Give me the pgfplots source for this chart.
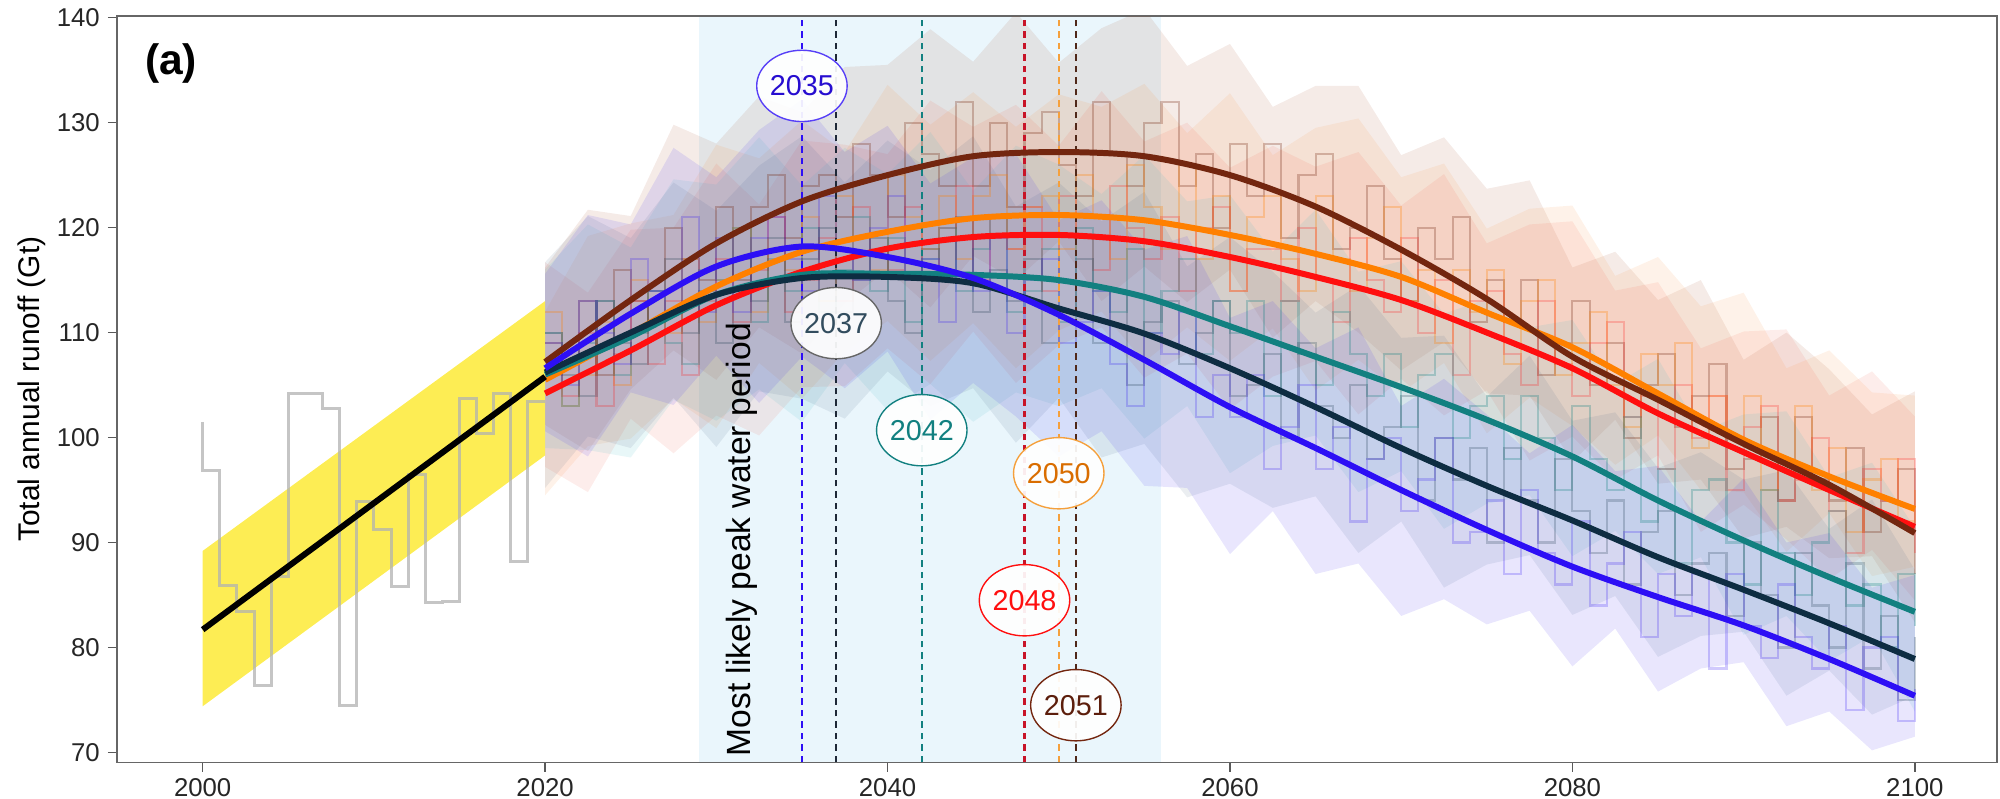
\documentclass[border=0pt]{standalone}
\usepackage{fontspec}
\setmainfont{Liberation Sans}
\usepackage{pgfplots}
\usepackage{pgfplotstable}
\pgfplotsset{compat=1.18}
\usepgfplotslibrary{fillbetween}
\usetikzlibrary{shapes.geometric}

\definecolor{cBl}{RGB}{45,15,245}
\definecolor{cNv}{RGB}{14,45,66}
\definecolor{cTe}{RGB}{18,128,128}
\definecolor{cRd}{RGB}{255,15,15}
\definecolor{cOr}{RGB}{255,128,0}
\definecolor{cBr}{RGB}{115,38,15}
\definecolor{cSpan}{RGB}{234,246,252}
\definecolor{cYel}{RGB}{253,235,65}
\definecolor{bBl}{RGB}{70,50,240}
\definecolor{bNv}{RGB}{70,100,130}
\definecolor{bTe}{RGB}{80,190,200}
\definecolor{bRd}{RGB}{240,80,60}
\definecolor{bOr}{RGB}{250,150,70}
\definecolor{bBr}{RGB}{170,90,60}
\definecolor{dNv}{RGB}{30,40,55}
\definecolor{dRd}{RGB}{200,20,40}
\definecolor{dOr}{RGB}{245,160,60}
\definecolor{dBr}{RGB}{80,40,25}

% smooth fitted curves
\pgfplotstableread{
yr bl nv te rd or br
2020 106.6 106.2 106.0 104.2 105.5 107.2
2025 111.8 110.0 109.6 108.3 109.9 113.1
2030 116.3 113.6 113.6 112.6 114.4 118.5
2035 118.2 115.2 115.5 115.8 117.7 122.5
2040 117.2 115.3 115.6 118.0 119.6 125.0
2045 115.2 114.7 115.5 119.1 120.9 126.8
2050 111.7 112.3 115.0 119.3 121.2 127.2
2055 107.4 109.9 113.4 118.7 120.7 126.8
2060 102.9 106.6 110.6 117.2 119.3 125.0
2065 99.0 102.9 107.7 115.3 117.5 122.0
2070 95.0 99.0 104.8 113.1 115.3 117.9
2075 91.2 95.4 101.7 110.0 111.9 113.2
2080 87.7 92.1 98.2 106.6 108.6 107.7
2085 84.8 88.6 94.0 102.3 104.2 103.6
2090 82.1 85.5 90.2 98.6 99.8 99.4
2095 78.9 82.3 86.7 95.0 96.3 95.5
2100 75.4 78.9 83.4 91.5 93.2 90.9
}\curves

% uncertainty bands
\pgfplotstableread{
yr blU blL nvU nvL teU teL rdU rdL orU orL brU brL
2020 115.6 100.6 116.7 95.2 116.0 99.0 116.7 97.2 112.0 94.5 116.2 101.2
2022.5 121.2 98.2 121.1 100.1 120.3 98.8 113.8 94.8 119.2 99.2 121.7 98.7
2025 120.3 104.3 119.0 99.0 118.1 98.1 119.8 101.8 120.4 99.9 121.1 104.6
2027.5 127.6 103.1 124.3 103.8 124.6 103.6 120.0 98.5 121.2 103.7 129.8 108.3
2030 124.8 107.8 121.6 99.1 124.1 101.6 126.1 102.1 127.9 100.9 128.0 105.5
2032.5 129.3 103.3 125.9 104.4 128.6 104.6 122.2 100.2 126.6 107.1 132.5 110.5
2035 132.2 107.7 128.7 103.7 124.0 101.5 128.3 104.8 130.2 103.7 131.0 108.0
2037.5 127.2 104.7 124.3 101.8 127.6 107.1 127.9 104.9 127.2 108.2 135.3 112.8
2040 129.7 108.2 128.3 106.3 125.1 102.6 127.0 108.5 133.6 111.1 135.5 116.0
2042.5 124.2 101.7 125.5 103.0 129.1 105.1 132.1 105.1 129.8 107.3 138.9 112.4
2045 126.7 105.2 128.7 104.7 123.5 101.5 129.6 110.1 132.9 110.9 135.8 117.3
2047.5 127.0 102.0 122.0 99.5 127.8 104.3 131.7 105.2 129.6 106.6 140.5 115.0
2050 120.7 98.2 124.3 103.8 126.0 103.0 127.8 108.8 132.7 110.2 135.7 118.7
2052.5 122.6 100.6 120.6 98.1 123.2 104.7 133.0 110.5 131.5 112.0 139.0 113.0
2055 117.9 95.4 123.4 99.4 126.9 99.9 128.2 105.7 133.7 107.2 140.8 116.3
2057.5 119.2 95.2 116.3 94.3 122.5 103.0 130.0 108.0 129.0 110.5 135.4 112.9
2060 111.4 88.9 119.1 95.6 123.1 96.6 125.7 102.7 132.8 107.3 137.5 116.0
2062.5 113.0 93.0 115.8 93.3 117.7 99.2 127.8 105.8 126.9 110.4 131.5 109.5
2065 108.5 87.0 111.9 94.4 121.7 100.2 125.8 107.3 129.5 104.5 133.5 113.0
2067.5 110.5 88.0 114.5 89.0 115.8 94.8 127.2 102.2 130.4 107.4 133.5 110.0
2070 103.0 83.0 109.5 92.0 116.8 96.8 122.1 105.6 124.8 104.3 126.9 106.4
2072.5 105.6 84.6 109.7 85.7 111.8 91.3 125.1 102.1 126.1 107.1 128.6 109.1
2075 102.2 82.2 103.9 87.9 113.2 93.7 118.5 104.5 119.9 100.4 123.7 104.2
2077.5 98.5 83.5 107.8 88.8 110.5 94.5 120.3 97.8 121.8 103.8 124.5 104.0
2080 101.2 78.2 101.6 83.1 111.2 88.7 120.6 100.1 122.1 101.1 116.2 97.7
2082.5 96.8 81.8 102.4 84.9 105.1 91.1 114.0 96.0 115.4 97.4 117.7 101.7
2085 97.3 75.8 97.1 79.1 107.5 87.0 114.8 98.3 117.2 100.2 113.1 95.6
2087.5 92.0 78.0 98.6 81.1 100.6 88.6 108.5 91.0 112.5 95.0 115.0 96.0
2090 96.1 78.6 96.0 81.5 102.2 81.2 110.1 93.6 113.8 94.8 107.4 90.4
2092.5 90.0 72.5 96.9 75.4 102.5 83.0 110.3 90.3 106.6 89.1 110.0 91.5
2095 90.9 73.9 91.3 77.8 96.2 78.7 104.0 86.5 108.3 92.8 106.5 88.5
2097.5 85.7 70.2 94.1 73.6 97.6 81.1 106.3 89.3 104.3 86.8 102.2 88.7
2100 86.9 71.5 87.4 75.4 91.4 73.9 102.0 84.5 104.0 87.7 104.4 82.4
}\bands

% annual values
\pgfplotstableread{
yr bl nv te rd or br
2020 109 110 110 106 112 109
2021 105 106 103 104 103 107
2022 113 104 109 110 106 113
2023 110 113 113 103 111 106
2024 107 109 106 108 105 116
2025 117 107 110 113 115 113
2026 114 114 114 107 111 111
2027 112 117 109 113 110 120
2028 121 110 107 106 117 117
2029 112 114 116 113 111 115
2030 119 109 115 117 115 122
2031 112 117 120 111 120 115
2032 119 113 111 116 112 122
2033 121 119 117 121 118 125
2034 117 111 114 112 116 119
2035 114 117 120 115 121 124
2036 123 120 112 119 113 125
2037 118 112 116 113 123 121
2038 115 115 121 122 119 128
2039 120 119 114 118 116 125
2040 123 113 119 116 125 121
2041 115 110 111 122 121 130
2042 117 118 117 115 118 127
2043 111 116 120 120 123 124
2044 119 121 114 124 117 132
2045 114 112 118 115 123 124
2046 119 116 121 121 125 130
2047 110 113 112 118 118 122
2048 115 117 114 122 122 129
2049 117 109 118 114 123 131
2050 109 112 111 123 118 126
2051 111 117 120 119 125 123
2052 114 109 114 116 121 132
2053 107 114 112 124 117 127
2054 103 105 118 120 126 124
2055 110 111 110 117 122 130
2056 108 113 114 121 118 132
2057 112 107 117 114 126 124
2058 102 110 108 120 117 127
2059 106 113 113 122 123 120
2060 102 104 110 114 114 128
2061 106 105 113 118 121 123
2062 97 108 104 118 123 128
2063 101 100 113 113 117 119
2064 105 109 108 120 114 125
2065 97 103 105 115 123 127
2066 101 100 112 111 117 118
2067 92 105 108 119 114 120
2068 98 98 104 115 119 124
2069 100 101 108 112 122 117
2070 93 104 101 119 113 113
2071 96 94 106 110 116 120
2072 100 100 108 115 109 117
2073 90 96 100 106 116 121
2074 91 99 103 113 112 111
2075 94 90 104 114 116 115
2076 87 99 98 108 107 111
2077 95 94 104 105 113 115
2078 89 90 100 113 115 106
2079 86 98 95 107 106 109
2080 92 93 103 104 109 113
2081 84 89 98 109 112 105
2082 88 94 95 111 105 109
2083 91 86 102 102 101 100
2084 81 91 92 104 108 105
2085 87 93 97 97 105 108
2086 83 85 88 105 109 101
2087 87 88 95 100 99 104
2088 78 89 96 104 104 107
2089 87 83 90 95 100 97
2090 82 90 86 101 104 98
2091 79 85 95 103 95 102
2092 86 80 89 94 98 94
2093 81 89 85 96 103 102
2094 78 84 90 100 95 96
2095 82 80 93 93 99 94
2096 74 88 84 89 91 99
2097 80 78 86 97 96 91
2098 81 83 80 94 98 94
2099 73 75 87 98 92 97
2100 76 81 82 89 95 87
}\steps

\tikzset{lab/.style={ellipse, fill=white, fill opacity=0.92, text opacity=1,
  minimum width=38pt, minimum height=31pt, inner sep=0pt, line width=0.6pt,
  font=\fontsize{12.5}{14}\selectfont}}

\begin{document}
\begin{tikzpicture}
\begin{axis}[
  set layers,
  scale only axis, width=817.4pt, height=324.5pt,
  xmin=1995, xmax=2104.8, ymin=69.05, ymax=140.15,
  xtick={2000,2020,2040,2060,2080,2100},
  ytick={70,80,90,100,110,120,130,140},
  tick pos=left, tick align=outside, major tick length=4pt,
  tick style={color=black!65, line width=0.6pt},
  axis line style={color=black!60, line width=0.7pt},
  ticklabel style={font=\fontsize{11.2}{13}\selectfont, text=black!85},
  /pgf/number format/assume math mode=true,
  /pgf/number format/1000 sep={},
  xticklabel style={yshift=0.5pt},
  yticklabel style={xshift=0pt},
  ylabel={Total annual runoff (Gt)},
  every axis y label/.style={at={(axis description cs:-0.0455,0.5)}, rotate=90, anchor=center, font=\fontsize{13}{15}\selectfont},
]
% peak-water period
\addplot[on layer=axis background, draw=none, fill=cSpan] coordinates {(2029,69.05) (2056,69.05) (2056,140.15) (2029,140.15)} -- cycle;

% bands
\addplot[draw=none, name path=brU] table[x=yr,y=brU]{\bands};
\addplot[draw=none, name path=brL] table[x=yr,y=brL]{\bands};
\addplot[fill=bBr, fill opacity=0.12, draw=none] fill between[of=brU and brL];
\addplot[draw=none, name path=orU] table[x=yr,y=orU]{\bands};
\addplot[draw=none, name path=orL] table[x=yr,y=orL]{\bands};
\addplot[fill=bOr, fill opacity=0.12, draw=none] fill between[of=orU and orL];
\addplot[draw=none, name path=rdU] table[x=yr,y=rdU]{\bands};
\addplot[draw=none, name path=rdL] table[x=yr,y=rdL]{\bands};
\addplot[fill=bRd, fill opacity=0.10, draw=none] fill between[of=rdU and rdL];
\addplot[draw=none, name path=teU] table[x=yr,y=teU]{\bands};
\addplot[draw=none, name path=teL] table[x=yr,y=teL]{\bands};
\addplot[fill=bTe, fill opacity=0.13, draw=none] fill between[of=teU and teL];
\addplot[draw=none, name path=nvU] table[x=yr,y=nvU]{\bands};
\addplot[draw=none, name path=nvL] table[x=yr,y=nvL]{\bands};
\addplot[fill=bNv, fill opacity=0.11, draw=none] fill between[of=nvU and nvL];
\addplot[draw=none, name path=blU] table[x=yr,y=blU]{\bands};
\addplot[draw=none, name path=blL] table[x=yr,y=blL]{\bands};
\addplot[fill=bBl, fill opacity=0.12, draw=none] fill between[of=blU and blL];

% historical trend band
\addplot[draw=none, fill=cYel, fill opacity=0.9] coordinates {(2000,74.4) (2020,98.3) (2020,113.0) (2000,89.2)} -- cycle;

% annual steps
\addplot[const plot, draw=cBr, draw opacity=0.28, line width=0.9pt] table[x=yr,y=br]{\steps};
\addplot[const plot, draw=cOr, draw opacity=0.28, line width=0.9pt] table[x=yr,y=or]{\steps};
\addplot[const plot, draw=cRd, draw opacity=0.22, line width=0.9pt] table[x=yr,y=rd]{\steps};
\addplot[const plot, draw=cTe, draw opacity=0.28, line width=0.9pt] table[x=yr,y=te]{\steps};
\addplot[const plot, draw=cNv, draw opacity=0.22, line width=0.9pt] table[x=yr,y=nv]{\steps};
\addplot[const plot, draw=cBl, draw opacity=0.22, line width=0.9pt] table[x=yr,y=bl]{\steps};

% observed annual runoff
\addplot[const plot, draw=black!30, draw opacity=0.75, line width=1.3pt] coordinates {
(2000,101.5) (2000,96.9) (2001,85.9) (2002,83.4) (2003,76.4) (2004,86.8) (2005,104.2) (2006,104.2)
(2007,102.8) (2008,74.5) (2009,93.9) (2010,91.2) (2011,85.8) (2012,96.5) (2013,84.3) (2014,84.4)
(2015,103.7) (2016,100.4) (2017,104.2) (2018,88.2) (2019,103.4) (2020,103.4)};

% peak years
\addplot[cBl, line width=0.9pt, dash pattern=on 3pt off 2pt] coordinates {(2035,69.05) (2035,140.15)};
\addplot[dNv, line width=0.9pt, dash pattern=on 3pt off 2pt] coordinates {(2037,69.05) (2037,140.15)};
\addplot[cTe, line width=0.9pt, dash pattern=on 3pt off 2pt] coordinates {(2042,69.05) (2042,140.15)};
\addplot[dRd, line width=0.9pt, dash pattern=on 3pt off 2pt] coordinates {(2048,69.05) (2048,140.15)};
\addplot[dOr, line width=0.9pt, dash pattern=on 3pt off 2pt] coordinates {(2050,69.05) (2050,140.15)};
\addplot[dBr, line width=0.9pt, dash pattern=on 3pt off 2pt] coordinates {(2051,69.05) (2051,140.15)};

% fitted curves
\addplot[cRd, line width=2.6pt, smooth, tension=0.5] table[x=yr,y=rd]{\curves};
\addplot[cOr, line width=2.6pt, smooth, tension=0.5] table[x=yr,y=or]{\curves};
\addplot[cBr, line width=2.6pt, smooth, tension=0.5] table[x=yr,y=br]{\curves};
\addplot[cTe, line width=2.6pt, smooth, tension=0.5] table[x=yr,y=te]{\curves};
\addplot[cNv, line width=2.6pt, smooth, tension=0.5] table[x=yr,y=nv]{\curves};
\addplot[cBl, line width=2.6pt, smooth, tension=0.5] table[x=yr,y=bl]{\curves};
% historical trend
\addplot[black, line width=2.6pt] coordinates {(2000,81.7) (2020,105.8)};

% labels
\node[lab, draw=cBl!80, text=cBl!85!black] at (axis cs:2035,133.5) {2035};
\node[lab, draw=black!60, text=cNv!85] at (axis cs:2037,110.9) {2037};
\node[lab, draw=cTe, text=cTe] at (axis cs:2042,100.7) {2042};
\node[lab, draw=dOr, text=cOr!85!black] at (axis cs:2050,96.6) {2050};
\node[lab, draw=cRd, text=cRd] at (axis cs:2048,84.5) {2048};
\node[lab, draw=cBr, text=cBr!80!black] at (axis cs:2051,74.5) {2051};

\node[rotate=90, anchor=west, inner sep=0pt, font=\fontsize{14.6}{17}\selectfont] at (axis cs:2031.5,69.6) {Most likely peak water period};
\node[font=\fontsize{18.5}{22}\selectfont\bfseries] at (axis description cs:0.0287,0.937) {(a)};
\end{axis}
\pgfresetboundingbox
\path[use as bounding box] (-50.9pt,-15.7pt) rectangle (818.7pt,331.5pt);
\end{tikzpicture}
\end{document}
